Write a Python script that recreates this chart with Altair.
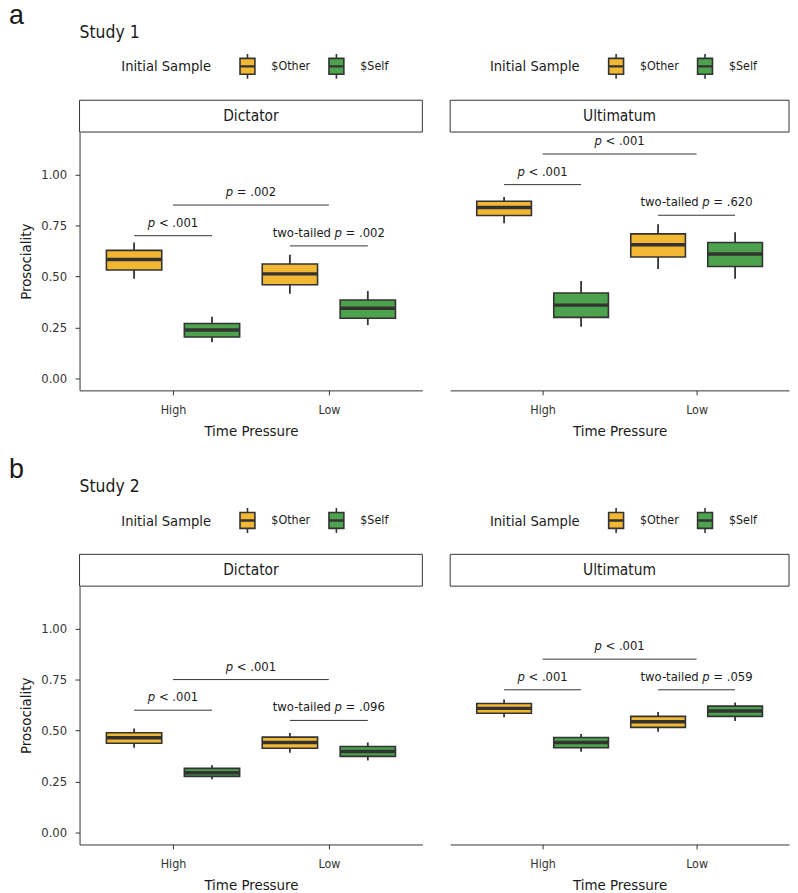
import json
import altair as alt
import pandas as pd

# ---------------- data ----------------
studies = ["Study 1", "Study 2"]
letters = ["a", "b"]
games = ["Dictator", "Ultimatum"]
pressures = ["High", "Low"]
samples = ["$Other", "$Self"]
sample_colors = ["#F2B834", "#4DA24D"]

# box summaries, ordered study -> game -> pressure -> sample
box_study = ["Study 1"] * 8 + ["Study 2"] * 8
box_game = (["Dictator"] * 4 + ["Ultimatum"] * 4) * 2
box_pressure = ["High", "High", "Low", "Low"] * 4
box_sample = ["$Other", "$Self"] * 8
whisker_low = [0.489, 0.178, 0.416, 0.262, 0.761, 0.254, 0.537, 0.489,
               0.416, 0.262, 0.392, 0.354, 0.565, 0.396, 0.494, 0.547]
box_q1 = [0.532, 0.204, 0.460, 0.296, 0.799, 0.300, 0.596, 0.549,
          0.438, 0.276, 0.414, 0.374, 0.585, 0.416, 0.516, 0.570]
box_median = [0.583, 0.238, 0.513, 0.345, 0.838, 0.360, 0.656, 0.610,
              0.465, 0.294, 0.442, 0.398, 0.609, 0.442, 0.544, 0.596]
box_q3 = [0.628, 0.270, 0.561, 0.385, 0.869, 0.419, 0.709, 0.667,
          0.490, 0.315, 0.468, 0.422, 0.633, 0.466, 0.570, 0.620]
whisker_high = [0.667, 0.303, 0.607, 0.429, 0.890, 0.478, 0.756, 0.717,
                0.511, 0.330, 0.489, 0.442, 0.653, 0.484, 0.591, 0.638]

# significance brackets
ann_study = ["Study 1"] * 6 + ["Study 2"] * 6
ann_game = (["Dictator"] * 3 + ["Ultimatum"] * 3) * 2
ann_span = ["High", "both", "Low"] * 4
ann_y = [0.70, 0.85, 0.65, 0.95, 1.10, 0.80, 0.60, 0.75, 0.55, 0.70, 0.85, 0.70]
ann_prefix = ["", "", "two-tailed"] * 4
ann_stat = ["< .001", "= .002", "= .002", "< .001", "< .001", "= .620",
            "< .001", "< .001", "= .096", "< .001", "< .001", "= .059"]

# ---------------- styling ----------------
FONT = "DejaVu Sans Condensed, Liberation Sans Narrow, sans-serif"
DARK = "#333333"
TXT = "#1a1a1a"
ANN_FS = 13
DODGE = 0.25
HALF = 0.1775
PLOT_H = 260
W_LEFT, W_RIGHT, GAP = 345, 341, 26

p_index = {p: i + 1 for i, p in enumerate(pressures)}
dodge = {samples[0]: -DODGE, samples[1]: DODGE}

boxes = pd.DataFrame({
    "study": box_study, "game": box_game, "pressure": box_pressure,
    "sample": box_sample, "wlo": whisker_low, "q1": box_q1,
    "med": box_median, "q3": box_q3, "whi": whisker_high,
})
boxes["pos"] = [p_index[p] + dodge[s] for p, s in zip(boxes.pressure, boxes["sample"])]
boxes["xl"] = boxes["pos"] - HALF
boxes["xr"] = boxes["pos"] + HALF

# approximate glyph widths (DejaVu Sans Condensed) for placing the italic p
_W = {' ': 318, '.': 318, '<': 838, '=': 838, 'p': 635, 't': 392, 'w': 818,
      'o': 612, '-': 361, 'a': 613, 'i': 278, 'l': 278, 'e': 615, 'd': 635}


def tw(s):
    return sum(_W.get(c, 636) for c in s) * 0.9 * ANN_FS / 1000.0


rows = []
for st, g, sp, y, pre, stat in zip(ann_study, ann_game, ann_span, ann_y, ann_prefix, ann_stat):
    if sp == "both":
        x1, x2 = p_index[pressures[0]], p_index[pressures[1]]
    else:
        x1, x2 = p_index[sp] - DODGE, p_index[sp] + DODGE
    pre_w = tw(pre + " ") if pre else 0.0
    total = pre_w + tw("p") + tw(" ") + tw(stat)
    d_pre = -total / 2
    d_p = d_pre + pre_w
    d_post = d_p + tw("p") + tw(" ")
    rows.append(dict(study=st, game=g, x1=x1, x2=x2, xm=(x1 + x2) / 2, y=y,
                     prefix=pre, stat=stat, dx_pre=d_pre, dx_p=d_p, dx_post=d_post))
anns = pd.DataFrame(rows)

LEG_PATH = ("M-0.6,-0.64L0.6,-0.64L0.6,0.64L-0.6,0.64Z "
            "M-0.6,-0.03L0.6,-0.03L0.6,0.03L-0.6,0.03Z "
            "M0,-0.64L0,-1 M0,0.64L0,1")

label_expr = json.dumps(pressures) + "[datum.value - 1]"


def panel(study, game, first):
    width = W_LEFT if first else W_RIGHT
    bd = boxes[(boxes.study == study) & (boxes.game == game)]
    ad = anns[(anns.study == study) & (anns.game == game)]
    xs = alt.Scale(domain=[0.4, 2.6], nice=False, zero=False)
    ys = alt.Scale(domain=[-0.0575, 1.2075], nice=False, zero=False)
    xaxis = alt.Axis(values=[1, 2], labelExpr=label_expr, title="Time Pressure",
                     grid=False, domainColor=DARK, tickColor=DARK, tickSize=4.5,
                     labelFont=FONT, labelFontSize=12.5, labelColor=DARK, labelPadding=9,
                     titleFont=FONT, titleFontSize=15, titleFontWeight="normal",
                     titleColor=TXT, titlePadding=7)
    if first:
        yaxis = alt.Axis(values=[0, 0.25, 0.5, 0.75, 1.0], format=".2f", title="Prosociality",
                         grid=False, domainColor=DARK, tickColor=DARK, tickSize=4.5,
                         labelFont=FONT, labelFontSize=13, labelColor=DARK, labelPadding=8.5,
                         titleFont=FONT, titleFontSize=15, titleFontWeight="normal",
                         titleColor=TXT, titlePadding=7)
    else:
        yaxis = None

    def X(f):
        return alt.X(f, scale=xs, axis=xaxis)

    def Y(f):
        return alt.Y(f, scale=ys, axis=yaxis)

    legend = alt.Legend(
        orient="none", legendX=42 if first else 40, legendY=-80,
        direction="horizontal", title="Initial Sample", titleOrient="left",
        titleAnchor="middle", titleBaseline="middle",
        titleFont=FONT, titleFontSize=14.7, titleFontWeight="normal", titleColor=TXT,
        titlePadding=22.5, labelFont=FONT, labelFontSize=12.5, labelColor=TXT,
        labelOffset=10.5, columnPadding=12.5, symbolType=LEG_PATH, symbolSize=625,
        symbolStrokeColor=DARK, symbolStrokeWidth=1.6, symbolOpacity=1, padding=0,
    )

    sdf = pd.DataFrame({"game": [game]})
    strip_box = alt.Chart(sdf).mark_rect(fill="white", stroke=DARK, strokeWidth=1).encode(
        x=alt.value(0), x2=alt.value(width), y=alt.value(-32), y2=alt.value(0))
    strip_txt = alt.Chart(sdf).mark_text(font=FONT, fontSize=15.5, color=TXT, baseline="middle").encode(
        x=alt.value(width / 2), y=alt.value(-16), text="game:N")

    whisk = alt.Chart(bd).mark_rule(color=DARK, strokeWidth=1.8).encode(
        x=X("pos:Q"), y=Y("wlo:Q"), y2="whi:Q")
    box = alt.Chart(bd).mark_rect(stroke=DARK, strokeWidth=1.6, opacity=1).encode(
        x=X("xl:Q"), x2="xr:Q", y=Y("q1:Q"), y2="q3:Q",
        color=alt.Color("sample:N", scale=alt.Scale(domain=samples, range=sample_colors),
                        legend=legend))
    med = alt.Chart(bd).mark_rule(color=DARK, strokeWidth=3.5).encode(
        x=X("xl:Q"), x2="xr:Q", y=Y("med:Q"))

    rules = alt.Chart(ad).mark_rule(color=DARK, strokeWidth=1).encode(
        x=X("x1:Q"), x2="x2:Q", y=Y("y:Q"))
    tcommon = dict(align="left", baseline="alphabetic", dy=-9, font=FONT,
                   fontSize=ANN_FS, color=TXT)
    t_pre = alt.Chart(ad).mark_text(dx={"expr": "datum.dx_pre"}, **tcommon).encode(
        x=X("xm:Q"), y=Y("y:Q"), text="prefix:N")
    t_p = alt.Chart(ad).mark_text(dx={"expr": "datum.dx_p"}, fontStyle="italic", **tcommon).encode(
        x=X("xm:Q"), y=Y("y:Q"), text=alt.value("p"))
    t_post = alt.Chart(ad).mark_text(dx={"expr": "datum.dx_post"}, **tcommon).encode(
        x=X("xm:Q"), y=Y("y:Q"), text="stat:N")

    props = dict(width=width, height=PLOT_H)
    if first:
        props["title"] = alt.TitleParams(study, anchor="start", frame="group", font=FONT,
                                         fontSize=17.5, fontWeight="normal", color=TXT, offset=11.5)
    return alt.layer(strip_box, strip_txt, whisk, box, med, rules, t_pre, t_p, t_post).properties(**props)


row_charts = []
for st, letter in zip(studies, letters):
    r = alt.hconcat(
        panel(st, games[0], True), panel(st, games[1], False), spacing=GAP,
        title=alt.TitleParams(letter, anchor="start", frame="bounds",
                              font="Liberation Sans, Arial, sans-serif", fontSize=27,
                              fontWeight="normal", color=TXT, dx=-10, dy=6, offset=0),
    ).resolve_scale(color="independent").resolve_legend(color="independent")
    row_charts.append(r)

chart = alt.vconcat(*row_charts, spacing=18).resolve_scale(color="independent").resolve_legend(
    color="independent").properties(padding={"left": 0, "top": -9, "right": 0, "bottom": 0}
                                     ).configure_view(stroke=None)

chart.save("out.html", embed_options={"renderer": "svg", "actions": False})
